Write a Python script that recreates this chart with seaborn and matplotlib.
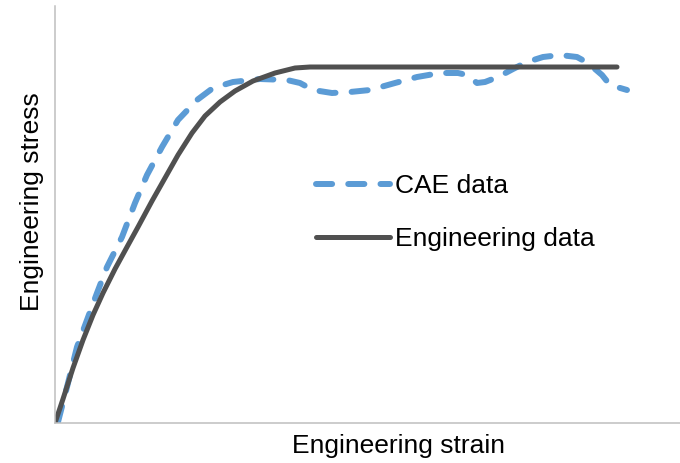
import matplotlib
matplotlib.use("Agg")
import matplotlib.pyplot as plt
import seaborn as sns
import pandas as pd

# Engineering (solid) curve: strain / stress in arbitrary units
eng_strain = [0, 8, 18, 28, 38, 48, 60, 72, 83, 97, 110, 123, 137, 150, 165, 180, 198, 220, 240, 255, 562]
eng_stress = [0, 24, 55, 83, 108, 130, 154, 176, 196, 222, 245, 268, 290, 307, 321, 332, 342, 350, 355, 356, 356]

# CAE (dashed) curve
cae_strain = [3, 12, 22, 32, 42, 52, 67, 80, 92, 107, 123, 142, 158, 178, 205, 232,
              245, 258, 277, 295, 315, 340, 362, 385, 403, 412, 422, 430, 443, 458,
              472, 488, 505, 522, 533, 547, 555, 572]
cae_stress = [1, 36, 76, 103, 130, 156, 186, 220, 248, 276, 303, 323, 335, 341, 344, 343,
              340, 333, 330, 331, 333, 340, 346, 350, 350, 348, 340, 341, 346, 354,
              361, 366, 368, 366, 360, 348, 338, 333]

series_names = ["CAE data", "Engineering data"]
x_label = "Engineering strain"
y_label = "Engineering stress"

sns.set_theme(style="white")
plt.rcParams["font.family"] = ["Liberation Sans", "DejaVu Sans"]

fig = plt.figure(figsize=(6.8, 4.63), dpi=100)
ax = fig.add_axes([55 / 680, 40 / 463, 625 / 680, 417 / 463])

df_cae = pd.DataFrame({"strain": cae_strain, "stress": cae_stress})
df_eng = pd.DataFrame({"strain": eng_strain, "stress": eng_stress})

sns.lineplot(data=df_cae, x="strain", y="stress", ax=ax, sort=False,
             color="#5B9BD5", linewidth=4.3, label=series_names[0])
sns.lineplot(data=df_eng, x="strain", y="stress", ax=ax, sort=False,
             color="#505050", linewidth=3.6, label=series_names[1])

cae_line, eng_line = ax.lines[0], ax.lines[1]
cae_line.set_dashes([2.7, 2.7])
cae_line.set_dash_capstyle("round")
cae_line.set_dash_joinstyle("round")
eng_line.set_solid_capstyle("round")
eng_line.set_solid_joinstyle("round")

ax.set_xlim(0, 625)
ax.set_ylim(0, 417)
ax.set_xticks([])
ax.set_yticks([])
ax.set_xlabel(x_label, fontsize=19, color="black")
ax.set_ylabel(y_label, fontsize=19, color="black")
ax.xaxis.set_label_coords(0.55, -0.026)
ax.yaxis.set_label_coords(-0.018, 0.532)

for s in ["top", "right"]:
    ax.spines[s].set_visible(False)
for s in ["left", "bottom"]:
    ax.spines[s].set_color("#bfbfbf")
    ax.spines[s].set_linewidth(1.1)

leg = ax.legend(loc="upper left", bbox_to_anchor=((292 - 55) / 625, (423 - 150) / 417),
                frameon=False, fontsize=19, handlelength=2.8, handletextpad=0.2,
                labelspacing=1.12)
for t in leg.get_texts():
    t.set_color("black")
for h in leg.get_lines():
    h.set_dash_capstyle("round")
    h.set_solid_capstyle("round")

fig.savefig("out.png", dpi=100)
